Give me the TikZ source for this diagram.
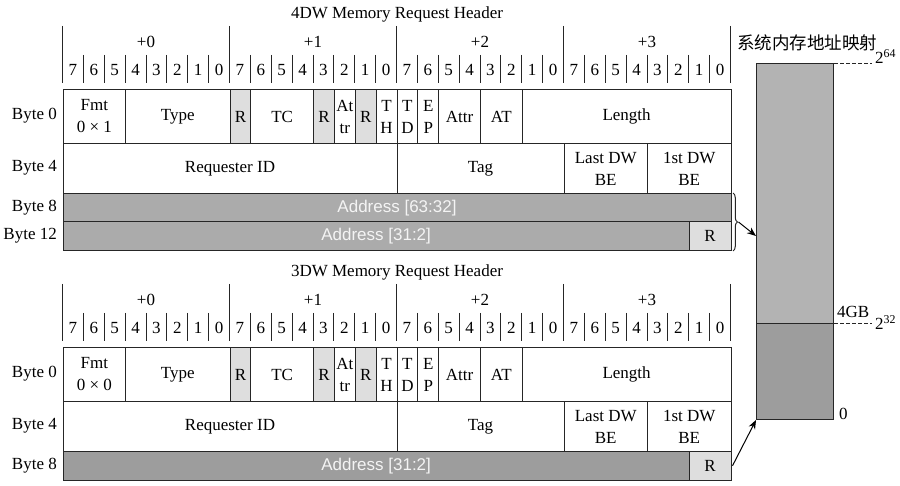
\documentclass[tikz,border=0pt]{standalone}
\usepackage{fontspec}
\setmainfont{Liberation Serif}
\newfontfamily\cjkf{Noto Sans CJK SC}
\newfontfamily\sansf{Liberation Sans}
\usetikzlibrary{arrows.meta,decorations.pathreplacing,calc}
\definecolor{addrhiC}{HTML}{ABABAB}
\definecolor{addrloC}{HTML}{9D9D9D}
\definecolor{rsvC}{HTML}{DEDEDE}
\definecolor{memhiC}{HTML}{B3B3B3}
\definecolor{memloC}{HTML}{9D9D9D}
\definecolor{addrtxt}{HTML}{F4F4F4}
\definecolor{lineC}{HTML}{262626}
\tikzset{
  base/.style={font=\fontsize{17}{22}\selectfont, inner sep=0pt, text=black},
  fbox/.style={base, draw=lineC, line width=1pt, align=center, fill=white},
  rsv/.style={fill=rsvC},
  addrhi/.style={fill=addrhiC, font=\sansf\fontsize{17}{20}\selectfont, text=addrtxt},
  addrlo/.style={fill=addrloC, font=\sansf\fontsize{17}{20}\selectfont, text=addrtxt},
  ruler/.style={line width=1pt, draw=lineC},
  dashl/.style={line width=0.9pt, dash pattern=on 3.5pt off 2.5pt, draw=lineC},
  arr/.style={line width=1pt, draw=black, -{Stealth[length=9pt,width=7pt]}},
  membox/.style={draw=lineC, line width=1pt, minimum width=77pt, inner sep=0pt, anchor=north west},
}
\newcommand\fld[7][]{\node[fbox,#1,minimum width={#4*20.875pt},minimum height={#6pt},anchor=north west] (#2) at ({62.5+#3*20.875},{#5}) {#7};}
\newcommand\tbl[4]{%
  \node[base] (#1title) at (397,{#2+14}) {#3};
  \foreach \k in {0,...,4} {\draw[ruler] ({62.5+\k*167},{#2+26}) -- ({62.5+\k*167},{#2+83});}
  \foreach \k in {0,...,3} {\node[base] (#1byte\k) at ({146+\k*167},{#2+42}) {+\k};}
  \foreach \i in {0,...,31} {%
    \pgfmathtruncatemacro\dg{7-mod(\i,8)}%
    \node[base] (#1bit\i) at ({62.5+(\i+0.5)*20.875},{#2+70}) {\dg};
    \ifnum\dg<7 \draw[ruler] ({62.5+\i*20.875},{#2+55}) -- ({62.5+\i*20.875},{#2+83});\fi
  }
  \fld{#1fmt}{0}{3}{#2+89}{54}{Fmt\\0 × #4}
  \fld{#1type}{3}{5}{#2+89}{54}{Type}
  \fld[rsv]{#1ra}{8}{1}{#2+89}{54}{R}
  \fld{#1tc}{9}{3}{#2+89}{54}{TC}
  \fld[rsv]{#1rb}{12}{1}{#2+89}{54}{R}
  \fld{#1atr}{13}{1}{#2+89}{54}{At\\tr}
  \fld[rsv]{#1rc}{14}{1}{#2+89}{54}{R}
  \fld{#1th}{15}{1}{#2+89}{54}{T\\H}
  \fld{#1td}{16}{1}{#2+89}{54}{T\\D}
  \fld{#1ep}{17}{1}{#2+89}{54}{E\\P}
  \fld{#1attr}{18}{2}{#2+89}{54}{Attr}
  \fld{#1at}{20}{2}{#2+89}{54}{AT}
  \fld{#1len}{22}{10}{#2+89}{54}{Length}
  \fld{#1rid}{0}{16}{#2+143}{50}{Requester ID}
  \fld{#1tag}{16}{8}{#2+143}{50}{Tag}
  \fld{#1ldw}{24}{4}{#2+143}{50}{Last DW\\BE}
  \fld{#1fdw}{28}{4}{#2+143}{50}{1st DW\\BE}
  \node[base,anchor=east] (#1lab0) at (57,{#2+116}) {Byte 0};
  \node[base,anchor=east] (#1lab4) at (57,{#2+168}) {Byte 4};
}
\begin{document}
\begin{tikzpicture}[x=1pt,y=-1pt]
\useasboundingbox[fill=white] (0,0) rectangle (900,486);
% ---- 4DW header
\tbl{a}{0}{4DW Memory Request Header}{1}
\fld[addrhi]{aaddrhi}{0}{32}{193}{28.5}{Address [63:32]}
\fld[addrhi]{aaddrlo}{0}{30}{221.5}{28.5}{Address [31:2]}
\fld[rsv]{ar}{30}{2}{221.5}{28.5}{R}
\node[base,anchor=east] (alab8) at (57,207.25) {Byte 8};
\node[base,anchor=east] (alab12) at (57,235.75) {Byte 12};
% ---- 3DW header
\tbl{b}{258}{3DW Memory Request Header}{0}
\fld[addrlo]{baddr}{0}{30}{451}{28.5}{Address [31:2]}
\fld[rsv]{br}{30}{2}{451}{28.5}{R}
\node[base,anchor=east] (blab8) at (57,465.25) {Byte 8};
% ---- memory map
\node[font=\cjkf\fontsize{17.5}{20}\selectfont, inner sep=0pt, anchor=west] (memtitle) at (737,43) {系统内存地址映射};
\node[membox, fill=memhiC, minimum height=260pt] (memhi) at (756,63) {};
\node[membox, fill=memloC, minimum height=96pt] (memlo) at (756,323) {};
\coordinate (d64) at (872,63);
\coordinate (d32) at (872,323);
\draw[dashl] (memhi.north east) -- (d64);
\draw[dashl] (memlo.north east) -- (d32);
\node[base, anchor=base west] (l64) at (875,64) {2\textsuperscript{64}};
\node[base, anchor=base west] (l32) at (875,330) {2\textsuperscript{32}};
\node[base, anchor=base west] (l4gb) at (837,318) {4GB};
\node[base, anchor=base west] (l0) at (839,419) {0};
% ---- brace and arrows
\draw[line width=1pt, draw=lineC, decorate, decoration={brace, amplitude=4.5pt}] ([xshift=1.5pt]aaddrhi.north east) -- ([xshift=1.5pt]ar.south east) coordinate[pos=0.5, xshift=5.5pt] (btip);
\coordinate (atgt) at (756,236);
\draw[arr] (btip) -- (atgt);
\draw[arr] ([xshift=1pt]br.east) -- (memlo.south west);
\end{tikzpicture}
\end{document}
